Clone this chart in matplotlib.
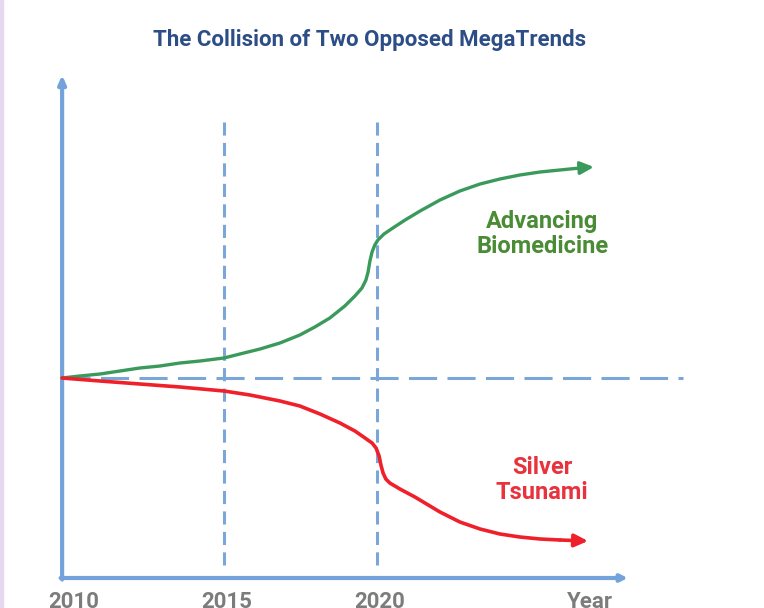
import matplotlib
matplotlib.use("Agg")
import matplotlib.pyplot as plt
from matplotlib.patches import Rectangle

# ---- data (years on x, relative level on y; 0 = today's baseline) ----
title = "The Collision of Two Opposed MegaTrends"
tick_years = [2010, 2015, 2020]
tick_labels = ["2010", "2015", "2020"]
axis_label = "Year"

green_x = [2009.71, 2010.29, 2010.95, 2011.60, 2012.25, 2012.91, 2013.56, 2014.22,
           2015.00, 2015.52, 2016.18, 2016.83, 2017.48, 2017.97, 2018.46, 2018.95,
           2019.28, 2019.51, 2019.64, 2019.71, 2019.77, 2019.84, 2019.93, 2020.03,
           2020.23, 2020.52, 2020.92, 2021.41, 2022.06, 2022.71, 2023.37, 2024.02,
           2024.67, 2025.33, 2025.98, 2026.63, 2027.09]
green_y = [0, 2, 4, 7, 10, 12, 15, 17,
           20, 24, 29, 35, 43, 51, 60, 72,
           82, 90, 98, 106, 117, 126, 133, 138,
           144, 150, 158, 167, 178, 187, 194, 199,
           203, 206, 208, 210, 211]

red_x = [2009.71, 2010.95, 2012.25, 2013.56, 2015.00, 2015.85, 2016.83, 2017.48,
         2018.14, 2018.79, 2019.28, 2019.61, 2019.84, 2019.97, 2020.07, 2020.13,
         2020.20, 2020.29, 2020.42, 2020.75, 2021.24, 2022.06, 2022.71, 2023.37,
         2024.02, 2024.67, 2025.33, 2025.98, 2026.90]
red_y = [0, -3, -6, -9, -13, -17, -23, -28,
         -36, -45, -53, -60, -65, -70, -78, -87,
         -95, -101, -105, -111, -119, -134, -144, -151,
         -156, -159, -161, -162, -163]

green_label = "Advancing\nBiomedicine"
red_label = "Silver\nTsunami"

# ---- styling ----
FONT = "Roboto"
GREEN = "#3a9a5c"
GREEN_TXT = "#4a8b35"
RED = "#f0202a"
RED_TXT = "#e8323c"
BLUE = "#7aa6d8"
AXIS = "#73a3da"
TITLE_C = "#2c4d86"
GRAY = "#7c7c7c"

fig = plt.figure(figsize=(7.64, 6.08), dpi=100)
fig.patch.set_facecolor("white")
ax = fig.add_axes([0, 0, 1, 1])
ax.set_xlim(2007.68, 2032.65)
ax.set_ylim(-230, 378)
ax.axis("off")

# left purple strip
fig.patches.append(Rectangle((0, 0), 2.5 / 764, 1, transform=fig.transFigure,
                             color="#e4d9f1", zorder=0))

x0 = green_x[0]
y_axis_bottom = -200
y_axis_top = 303
x_axis_end = 2028.2

# dashed reference lines
ax.plot([x0, 2030.0], [0, 0], color=BLUE, lw=2.2, dashes=(9.2, 3.4), zorder=1,
        dash_capstyle="butt")
for yr in [2015, 2020]:
    ax.plot([yr, yr], [-187, 256], color=BLUE, lw=2.2, dashes=(4.3, 2.4), zorder=1,
            dash_capstyle="butt")

# axes with arrows
ax.annotate("", xy=(x0, y_axis_top), xytext=(x0, y_axis_bottom - 1.5),
            arrowprops=dict(arrowstyle="-|>,head_length=0.5,head_width=0.22",
                            color=AXIS, lw=3, shrinkA=0, shrinkB=0), zorder=2)
ax.annotate("", xy=(x_axis_end, y_axis_bottom), xytext=(x0 - 0.05, y_axis_bottom),
            arrowprops=dict(arrowstyle="-|>,head_length=0.4,head_width=0.2",
                            color=AXIS, lw=3, shrinkA=0, shrinkB=0), zorder=2)

# curves
ax.plot(green_x[:-1], green_y[:-1], color=GREEN, lw=2.4, zorder=3,
        solid_capstyle="round", solid_joinstyle="round")
ax.annotate("", xy=(green_x[-1], green_y[-1]), xytext=(green_x[-2], green_y[-2]),
            arrowprops=dict(arrowstyle="-|>,head_length=0.8,head_width=0.38",
                            color=GREEN, lw=2.4, shrinkA=0, shrinkB=0), zorder=3)
ax.plot(red_x[:-1], red_y[:-1], color=RED, lw=2.6, zorder=3,
        solid_capstyle="round", solid_joinstyle="round")
ax.annotate("", xy=(red_x[-1], red_y[-1]), xytext=(red_x[-2], red_y[-2]),
            arrowprops=dict(arrowstyle="-|>,head_length=0.8,head_width=0.38",
                            color=RED, lw=2.6, shrinkA=0, shrinkB=0), zorder=3)

# labels
ax.text(2025.4, 144, green_label, color=GREEN_TXT, fontsize=17, fontweight="bold",
        family=FONT, ha="center", va="center", linespacing=1.1)
ax.text(2025.4, -102, red_label, color=RED_TXT, fontsize=17, fontweight="bold",
        family=FONT, ha="center", va="center", linespacing=1.1)

# tick labels
for yr, lab in zip(tick_years, tick_labels):
    ax.text(yr + 0.1, -224, lab, color=GRAY, fontsize=16, fontweight="bold",
            family=FONT, ha="center", va="center")
ax.text(2026.96, -224, axis_label, color=GRAY, fontsize=16, fontweight="bold",
        family=FONT, ha="center", va="center")

# title
fig.text(370 / 764, 1 - 40 / 608, title, color=TITLE_C, fontsize=16,
         fontweight="bold", family=FONT, ha="center", va="center")

fig.savefig("out.png", dpi=100, facecolor="white")
